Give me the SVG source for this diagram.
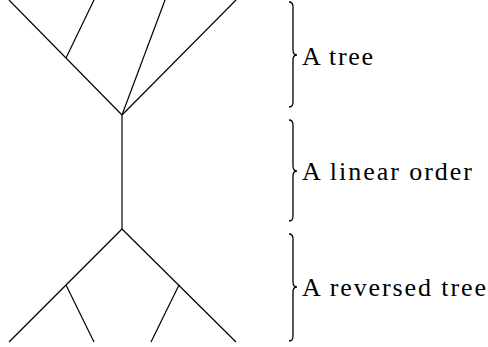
<svg xmlns="http://www.w3.org/2000/svg" width="488" height="347" viewBox="0 0 488 347">
<style>
.e{stroke:#000;stroke-width:1.2;fill:none;stroke-linecap:butt}
.b{stroke:#000;stroke-width:1.3;fill:none}
.t{font-family:"Liberation Serif","DejaVu Serif",serif;font-size:26px;fill:#000}
</style>
<rect width="488" height="347" fill="#fff"/>
<g id="connectors">
<line class="e" x1="122" y1="115" x2="9" y2="0"/>
<line class="e" x1="66" y1="58" x2="94" y2="0"/>
<line class="e" x1="122" y1="115" x2="165" y2="0"/>
<line class="e" x1="122" y1="115" x2="236" y2="0"/>
<line class="e" x1="122" y1="115" x2="122" y2="229"/>
<line class="e" x1="122" y1="229" x2="9" y2="342"/>
<line class="e" x1="66" y1="285" x2="94" y2="342"/>
<line class="e" x1="122" y1="229" x2="236" y2="342"/>
<line class="e" x1="179" y1="285" x2="151" y2="342"/>
</g>
<g id="brace1">
<path class="b" d="M289,2 Q293,2 293,7 L293,50 Q293,55 297,55 Q293,55 293,60 L293,102 Q293,107 289,107"/>
<text class="t" x="302" y="65" textLength="71" lengthAdjust="spacing">A tree</text>
</g>
<g id="brace2">
<path class="b" d="M289,120 Q293,120 293,125 L293,166 Q293,171 297,171 Q293,171 293,176 L293,216 Q293,221 289,221"/>
<text class="t" x="302" y="180" textLength="170" lengthAdjust="spacing">A linear order</text>
</g>
<g id="brace3">
<path class="b" d="M289,234 Q293,234 293,239 L293,282 Q293,287 297,287 Q293,287 293,292 L293,336 Q293,341 289,341"/>
<text class="t" x="302" y="296" textLength="184" lengthAdjust="spacing">A reversed tree</text>
</g>
</svg>
